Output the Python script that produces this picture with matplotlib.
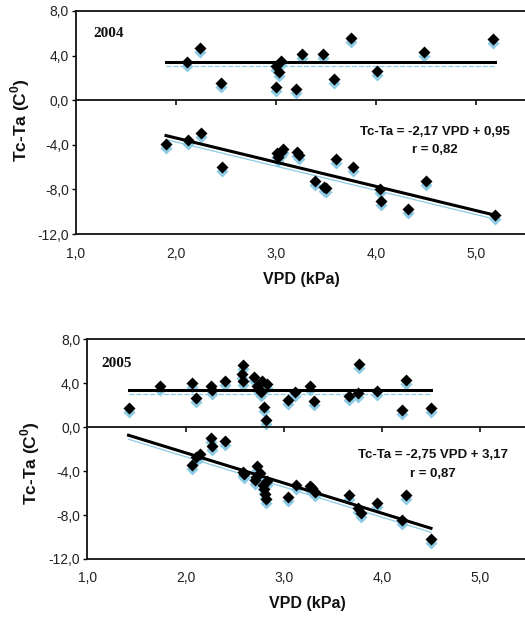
import matplotlib
matplotlib.use('Agg')
import matplotlib.pyplot as plt
import matplotlib.transforms as mtransforms
import numpy as np

plt.rcParams['font.family'] = ['Liberation Sans', 'DejaVu Sans']
plt.rcParams['mathtext.fontset'] = 'custom'
plt.rcParams['mathtext.rm'] = 'Liberation Sans:bold'
plt.rcParams['mathtext.bf'] = 'Liberation Sans:bold'

# 2004 - points above zero
vpd_2004_hi = [2.11, 2.24, 2.45, 3.00, 3.05, 3.03, 3.00, 3.20, 3.26, 3.47, 3.58, 3.75, 4.01, 4.48, 5.17]
dt_2004_hi = [3.44, 4.65, 1.51, 3.05, 3.50, 2.55, 1.21, 0.98, 4.15, 4.15, 1.87, 5.54, 2.64, 4.30, 5.48]
# 2004 - points below zero
vpd_2004_lo = [1.90, 2.12, 2.25, 2.46, 3.01, 3.02, 3.05, 3.07, 3.21, 3.23, 3.39, 3.48, 3.50, 3.60,
               3.77, 4.04, 4.05, 4.32, 4.50, 5.19]
dt_2004_lo = [-3.90, -3.57, -2.94, -5.95, -4.77, -5.07, -4.65, -4.41, -4.65, -4.95, -7.21, -7.78, -7.90,
              -5.29, -5.95, -7.96, -9.07, -9.73, -7.21, -10.27]

# 2005
vpd_2005_hi = [1.42, 1.74, 2.07, 2.11, 2.26, 2.27, 2.40, 2.59, 2.58, 2.59, 2.70, 2.73, 2.76, 2.78, 2.77,
               2.83, 2.80, 2.82, 3.04, 3.12, 3.27, 3.31, 3.67, 3.77, 3.76, 3.95, 4.20, 4.25, 4.50]
dt_2005_hi = [1.73, 3.74, 4.04, 2.70, 3.74, 3.34, 4.19, 5.62, 4.83, 4.16, 4.53, 3.77, 3.40, 4.16, 3.16,
              3.89, 1.82, 0.67, 2.43, 3.16, 3.74, 2.40, 2.86, 5.77, 3.13, 3.28, 1.58, 4.34, 1.79]
vpd_2005_lo = [2.07, 2.11, 2.15, 2.26, 2.27, 2.40, 2.59, 2.60, 2.73, 2.72, 2.71, 2.76, 2.79, 2.80, 2.81,
               2.82, 2.83, 3.04, 3.13, 3.27, 3.29, 3.32, 3.67, 3.76, 3.79, 3.95, 4.20, 4.25, 4.50]
dt_2005_lo = [-3.46, -2.73, -2.40, -1.00, -1.67, -1.30, -4.06, -4.25, -3.55, -4.55, -4.80, -4.19, -5.22,
              -5.67, -6.07, -6.58, -4.92, -6.40, -5.25, -5.34, -5.50, -5.86, -6.19, -7.38, -7.83, -6.86,
              -8.41, -6.16, -10.17]

# fitted lines (level of upper group, slope/intercept printed on chart)
level_2004, level_2005 = 3.42, 3.40
slope_2004, icpt_2004 = -2.17, 0.95
slope_2005, icpt_2005 = -2.75, 3.17
r_2004, r_2005 = 0.82, 0.87

xticks = [1.0, 2.0, 3.0, 4.0, 5.0]
yticks = [-12.0, -8.0, -4.0, 0.0, 4.0, 8.0]

shadow = '#8ccbe3'
ink = '#111111'

W, H = 525, 618
fig = plt.figure(figsize=(W / 100, H / 100), dpi=100)


def fmt(v, n=1):
    return f'{v:.{n}f}'.replace('.', ',')


def panel(box, xmax, year, xs_hi, ys_hi, xs_lo, ys_lo, level, slope, icpt, r, year_xy, eq_x, eq_y,
          ylab_xy):
    left, top, right, bottom = box
    ax = fig.add_axes([left / W, 1 - bottom / H, (right - left) / W, (bottom - top) / H])
    ax.set_xlim(1.0, xmax)
    ax.set_ylim(-12, 8)
    shade = mtransforms.offset_copy(ax.transData, fig=fig, x=0, y=-4, units='dots')

    xs_all = xs_hi + xs_lo
    ys_all = ys_hi + ys_lo
    xl = np.array([min(xs_all), max(xs_all)])

    # light blue "ghost" copy from the scan
    ax.plot(xl, [level, level], color=shadow, lw=0.9, ls=(0, (4, 1.5)), transform=shade, zorder=1)
    ax.plot(xl, slope * xl + icpt, color=shadow, lw=0.9, transform=shade, zorder=1)
    ax.plot(xs_all, ys_all, 'D', color=shadow, ms=6.3, mec='none', transform=shade, zorder=2)

    ax.plot(xl, [level, level], color='black', lw=2.2, zorder=3)
    ax.plot(xl, slope * xl + icpt, color='black', lw=2.2, zorder=3)
    ax.plot(xs_all, ys_all, 'D', color='black', ms=6.3, mec='none', zorder=4)

    for sp in ['left', 'top', 'bottom']:
        ax.spines[sp].set_linewidth(1.3)
        ax.spines[sp].set_color(ink)
    ax.spines['right'].set_visible(False)

    # zero line with short downward tick marks
    ax.axhline(0, color=ink, lw=1.3, zorder=2)
    ax.vlines(xticks[1:], -0.45, 0, colors=ink, lw=1.2, zorder=2)

    ax.set_yticks(yticks)
    ax.set_yticklabels([fmt(v) for v in yticks], fontsize=10, color='#222222')
    ax.tick_params(axis='y', direction='out', length=3, width=1, pad=2)
    ax.set_xticks(xticks)
    ax.set_xticklabels([fmt(v) for v in xticks], fontsize=10, color='#222222')
    ax.tick_params(axis='x', length=0, pad=9)

    ax.set_xlabel('VPD (kPa)', fontsize=11.5, fontweight='bold', color=ink)
    ax.xaxis.set_label_coords(0.49, -0.17)
    ax.set_ylabel(r'Tc-Ta (C$^{\mathbf{0}}$)', fontsize=12.5, fontweight='bold', color=ink)
    ax.yaxis.set_label_coords(ylab_xy[0], ylab_xy[1])

    ax.text(year_xy[0], year_xy[1], year, family='Liberation Serif', fontweight='bold',
            fontsize=11, ha='left', va='center', color=ink)

    ax.text(eq_x, eq_y[0], f'Tc-Ta = {fmt(slope, 2)} VPD + {fmt(icpt, 2)}', fontsize=9.5,
            fontweight='bold', ha='center', va='center', color=ink)
    ax.text(eq_x, eq_y[1], f'r = {fmt(r, 2)}', fontsize=9.5, fontweight='bold', ha='center',
            va='center', color=ink)
    return ax


panel((76, 11, 536, 234), 5.6, '2004', vpd_2004_hi, dt_2004_hi, vpd_2004_lo, dt_2004_lo,
      level_2004, slope_2004, icpt_2004, r_2004, (1.17, 5.95), 4.587, (-2.86, -4.48), (-0.095, 0.51))
panel((87.3, 339.3, 536, 559), 1 + (536 - 87.3) / 98.2, '2005', vpd_2005_hi, dt_2005_hi,
      vpd_2005_lo, dt_2005_lo, level_2005, slope_2005, icpt_2005, r_2005, (1.147, 5.77), 4.52,
      (-2.51, -4.25), (-0.10, 0.437))

plt.savefig('out.png', dpi=100)
